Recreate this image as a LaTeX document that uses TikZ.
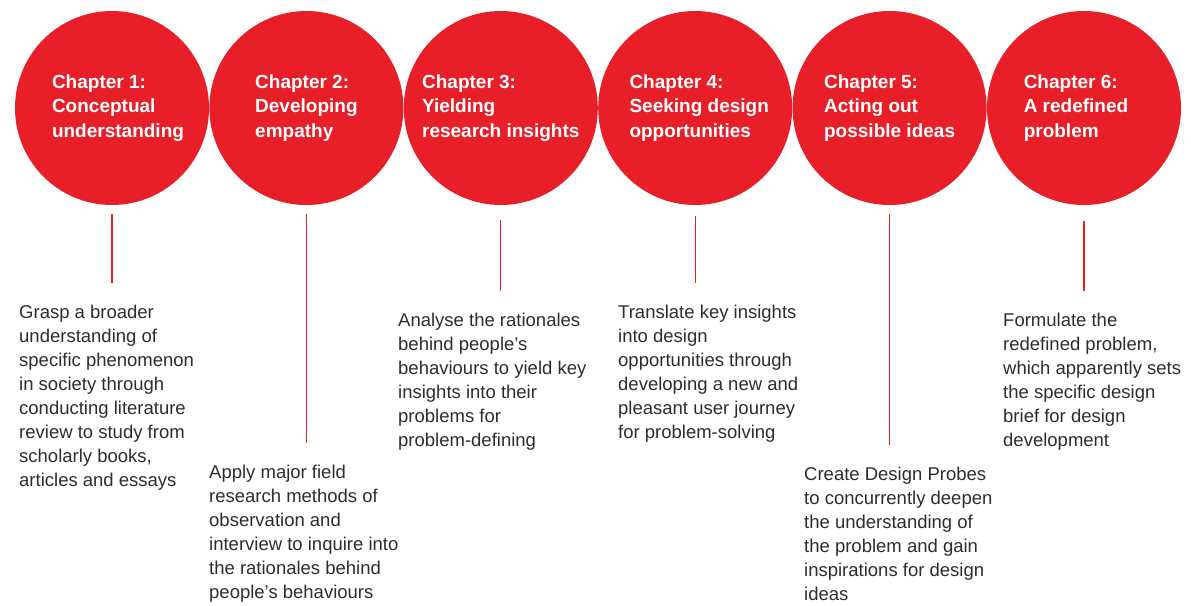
\documentclass[tikz,border=0pt]{standalone}
\usepackage{fontspec}
\setmainfont{Liberation Sans}
\usetikzlibrary{positioning}
\definecolor{chapred}{RGB}{232,30,40}
\definecolor{bodygray}{RGB}{45,45,45}

\begin{document}
\begin{tikzpicture}[
        x=1pt, y=-1pt,
        node distance=0pt,
        chapter/.style={circle, fill=chapred, minimum size=194pt, inner sep=0pt, text=white, align=left, font=\fontsize{19}{24.5}\selectfont\bfseries},
        desc/.style={anchor=north west, inner sep=0pt, align=left, text=bodygray, font=\fontsize{18.5}{24}\selectfont},
        stem/.style={draw=chapred, line width=1.3pt, shorten >=22pt}
    ]
    \useasboundingbox (0,0) rectangle (1191,605);

    % Chapters
    \node[chapter] (c1) at (112,108) {\hspace*{12pt}Chapter 1:\\\hspace*{12pt}Conceptual\\\hspace*{12pt}understanding};
    \node[chapter] (c2) [right=of c1] {Chapter 2:\\Developing\\empathy};
    \node[chapter] (c3) [right=of c2] {Chapter 3:\\Yielding\\research insights};
    \node[chapter] (c4) [right=of c3] {\hspace*{8pt}Chapter 4:\\\hspace*{8pt}Seeking design\\\hspace*{8pt}opportunities};
    \node[chapter] (c5) [right=of c4] {Chapter 5:\\Acting out\\possible ideas};
    \node[chapter] (c6) [right=of c5] {Chapter 6:\\A redefined\hspace*{16pt}\mbox{}\\problem};

    % Descriptions
    \node[desc] (t1) at (19,305) {Grasp a broader\\understanding of\\specific phenomenon\\in society through\\conducting literature\\review to study from\\scholarly books,\\articles and essays};
    \node[desc] (t2) at (209,465) {Apply major field\\research methods of\\observation and\\interview to inquire into\\the rationales behind\\people’s behaviours};
    \node[desc] (t3) at (398,313) {Analyse the rationales\\behind people’s\\behaviours to yield key\\insights into their\\problems for\\problem-defining};
    \node[desc] (t4) at (618,305) {Translate key insights\\into design\\opportunities through\\developing a new and\\pleasant user journey\\for problem-solving};
    \node[desc] (t5) at (804,467) {Create Design Probes\\to concurrently deepen\\the understanding of\\the problem and gain\\inspirations for design\\ideas};
    \node[desc] (t6) at (1003,313) {Formulate the\\redefined problem,\\which apparently sets\\the specific design\\brief for design\\development};

    % Stems
    \foreach \i/\gap in {1/9pt,2/9pt,3/15pt,4/11pt,5/9pt,6/16pt}
        \draw[stem, shorten <=\gap] (c\i) -- (c\i |- t\i.north);

\end{tikzpicture}
\end{document}
